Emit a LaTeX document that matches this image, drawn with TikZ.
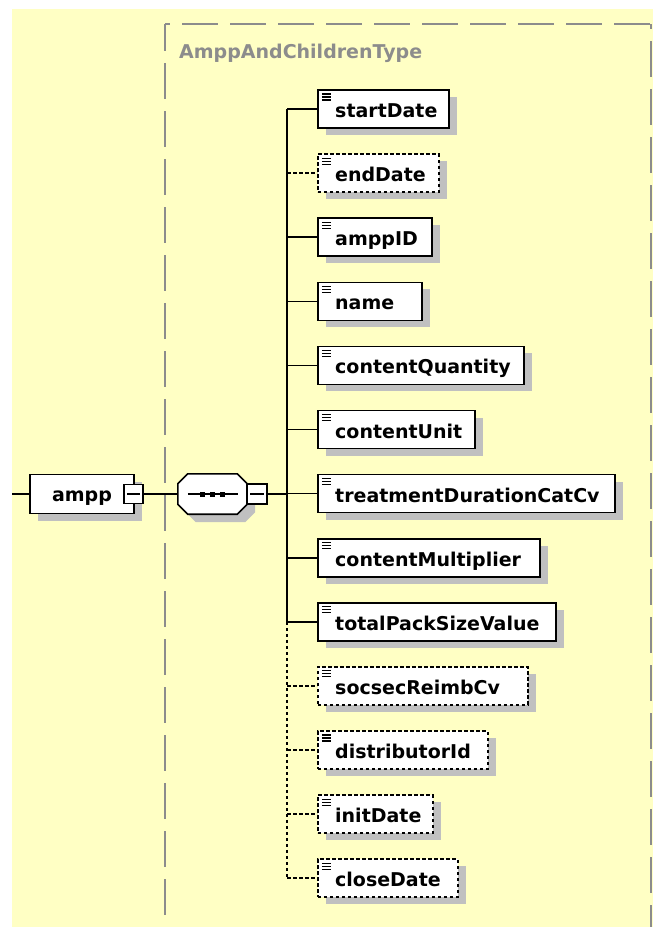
\documentclass[tikz,border=0pt]{standalone}
\usepackage{fontspec}
\setmainfont{DejaVu Sans}
\usetikzlibrary{positioning,shadows}
\definecolor{xsdbg}{RGB}{255,255,196}
\definecolor{xsdshade}{RGB}{192,192,192}
\definecolor{xsdgray}{RGB}{140,140,140}
\tikzset{
  shade/.style={drop shadow={shadow xshift=8pt, shadow yshift=-7pt, fill=xsdshade, opacity=1}},
  box/.style={draw=black, line width=1.6pt, fill=white, inner sep=0pt, minimum height=38pt, shade},
  mand/.style={box},
  opt/.style={box, dash pattern=on 3.5pt off 2.5pt},
  elem/.style={anchor=west, path picture={
    \foreach \k in {4,7,10}
      \draw[line width=1.1pt, solid] ([xshift=4pt,yshift=-\k pt]path picture bounding box.north west) -- ++(9pt,0);}},
  lbl/.style={inner sep=0pt, font=\bfseries\fontsize{19}{22}\selectfont},
  title/.style={inner sep=0pt, text=xsdgray, font=\bfseries\fontsize{19}{22}\selectfont},
  minus/.style={draw=black, line width=1.6pt, fill=white, minimum size=19pt, inner sep=0pt, path picture={
    \draw[line width=1.2pt] ([xshift=3pt]path picture bounding box.west) -- ([xshift=-3pt]path picture bounding box.east);}},
  seqbox/.style={minimum width=69pt, minimum height=40pt, inner sep=0pt},
  frame/.style={draw=xsdgray, line width=1.3pt, dash pattern=on 36pt off 12pt},
  mand link/.style={line width=1.6pt},
  opt link/.style={line width=1.6pt, dash pattern=on 3.5pt off 2.5pt},
}
\begin{document}
\begin{tikzpicture}[x=1pt, y=-1pt]
\useasboundingbox (0,0) rectangle (653,927);
\fill[xsdbg] (12,9) rectangle (653,927);

\draw[frame, dash phase=9pt] (165,24) -- (165,927);
\draw[frame, dash phase=31pt] (165,24) -- (651,24);
\draw[frame, dash phase=31pt] (651,24) -- (651,927);
\node[title, anchor=base west] (typename) at (179,58) {AmppAndChildrenType};

\coordinate (in) at (12,494);
\coordinate (trunk) at (287,494);

\node[box, minimum width=104pt, minimum height=39pt, text height=15pt, text depth=0pt, font=\bfseries\fontsize{19}{22}\selectfont] (ampp) at (82,494) {ampp};
\node[minus] (amppm) at (133.5,494) {};

% sequence compositor
\node[seqbox] (seq) at (212.5,494) {};
\fill[xsdshade] ([xshift=18pt,yshift=-8pt]seq.north west) -- ([xshift=-2pt,yshift=-8pt]seq.north east)
  -- ([xshift=8pt,yshift=-18pt]seq.north east) -- ([xshift=8pt,yshift=2pt]seq.south east)
  -- ([xshift=-2pt,yshift=-8pt]seq.south east) -- ([xshift=18pt,yshift=-8pt]seq.south west)
  -- ([xshift=8pt,yshift=2pt]seq.south west) -- ([xshift=8pt,yshift=-18pt]seq.north west) -- cycle;
\filldraw[fill=white, draw=black, line width=1.6pt] ([xshift=10pt]seq.north west) -- ([xshift=-10pt]seq.north east)
  -- ([yshift=-10pt]seq.north east) -- ([yshift=10pt]seq.south east)
  -- ([xshift=-10pt]seq.south east) -- ([xshift=10pt]seq.south west)
  -- ([yshift=10pt]seq.south west) -- ([yshift=-10pt]seq.north west) -- cycle;
\draw[line width=1.3pt] ([xshift=10pt]seq.west) -- ([xshift=-9pt]seq.east);
\foreach \dx in {-10,0,10}
  \fill ([xshift=\dx pt]seq.center) +(-2.5pt,-2.5pt) rectangle +(2.5pt,2.5pt);
\node[minus, minimum size=20pt] (seqm) at (257,494) {};

\draw[mand link] (in) -- (ampp.west);
\draw[mand link] (amppm.east) -- (seq.west);
\draw[mand link] (seqm.east) -- (trunk);

\foreach \nm/\w/\kind [count=\i from 0] in {startDate/131/mand, endDate/121/opt, amppID/114/mand, name/104/mand,
  contentQuantity/206/mand, contentUnit/157/mand, treatmentDurationCatCv/297/mand, contentMultiplier/222/mand,
  totalPackSizeValue/238/mand, socsecReimbCv/210/opt, distributorId/170/opt, initDate/115/opt, closeDate/140/opt}
{
  \node[\kind, elem, minimum width=\w pt] (\nm) at (317,{109+64.1*\i}) {};
  \node[lbl, anchor=base west] (\nm-t) at ([xshift=18pt,yshift=-8.5pt]\nm.west) {\nm};
  \draw[\kind\space link] (trunk |- \nm.west) -- (\nm.west);
}
\draw[mand link] (trunk |- startDate.west) -- (trunk |- totalPackSizeValue.west);
\draw[opt link] (trunk |- totalPackSizeValue.west) -- (trunk |- closeDate.west);
\end{tikzpicture}
\end{document}
